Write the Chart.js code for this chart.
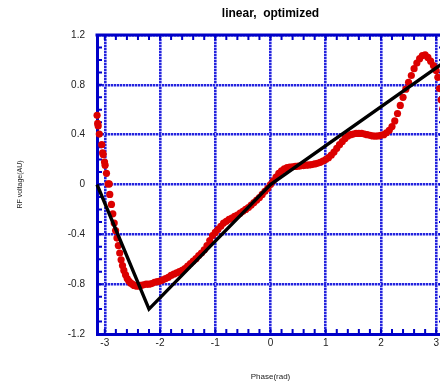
<!DOCTYPE html>
<html><head><meta charset="utf-8">
<script src="https://cdn.jsdelivr.net/npm/chart.js@4"></script>
<style>html,body{margin:0;padding:0;overflow:hidden;background:#fff}#wrap{width:448px;height:383px}</style>
</head><body><div id="wrap"><canvas id="c" width="448" height="383"></canvas></div>
<script>
// ---- data ----
const measPhase = [-3.14,-3.13,-3.12,-3.10,-3.055,-3.04,-3.03,-3.005,-2.995,-2.97,-2.94,-2.92,-2.91,-2.88,-2.855,-2.83,-2.805,-2.78,-2.755,-2.73,-2.705,-2.68,-2.655,-2.625,-2.595,-2.565,-2.535,-2.50,-2.47,-2.44,-2.41,-2.38,-2.35,
-2.30,-2.25,-2.20,-2.15,-2.10,-2.05,-2.00,-1.95,-1.90,-1.85,-1.80,-1.75,-1.70,-1.65,-1.60,-1.55,-1.50,-1.45,-1.40,-1.35,-1.30,-1.25,-1.20,-1.15,-1.10,-1.05,-1.00,-0.95,-0.90,-0.85,-0.80,-0.75,-0.70,-0.65,-0.60,-0.55,-0.50,-0.45,-0.40,-0.35,-0.30,-0.25,-0.20,-0.15,-0.10,-0.05,
0.00,0.05,0.10,0.15,0.20,0.25,0.30,0.35,0.40,0.45,0.50,0.55,0.60,0.65,0.70,0.75,0.80,0.85,0.90,0.95,1.00,1.05,1.10,1.15,1.20,1.25,1.30,1.35,1.40,1.45,1.50,1.55,1.60,1.65,1.70,1.75,1.80,1.85,1.90,1.95,2.00,2.05,2.10,2.15,2.20,2.25,2.30,2.35,2.40,2.45,2.50,2.55,2.60,2.65,2.70,2.75,2.80,2.85,2.90,2.95,3.00,3.03,3.06,3.09,3.12,3.14];
const measVoltage = [0.555,0.49,0.47,0.405,0.32,0.255,0.24,0.18,0.155,0.09,0.005,0.005,-0.08,-0.16,-0.235,-0.31,-0.37,-0.43,-0.49,-0.55,-0.605,-0.65,-0.69,-0.725,-0.755,-0.775,-0.79,-0.80,-0.81,-0.815,-0.815,-0.815,-0.81,
-0.805,-0.80,-0.80,-0.795,-0.785,-0.78,-0.775,-0.765,-0.755,-0.745,-0.73,-0.72,-0.71,-0.70,-0.69,-0.675,-0.655,-0.635,-0.615,-0.595,-0.57,-0.55,-0.525,-0.49,-0.45,-0.41,-0.385,-0.36,-0.335,-0.31,-0.295,-0.28,-0.27,-0.255,-0.245,-0.23,-0.215,-0.20,-0.185,-0.165,-0.145,-0.125,-0.105,-0.08,-0.055,-0.03,
0.00,0.03,0.06,0.09,0.11,0.125,0.135,0.14,0.142,0.145,0.147,0.15,0.152,0.155,0.157,0.16,0.165,0.17,0.178,0.188,0.20,0.215,0.235,0.26,0.29,0.32,0.345,0.37,0.39,0.40,0.405,0.41,0.41,0.41,0.405,0.40,0.395,0.39,0.388,0.39,0.395,0.40,0.415,0.435,0.465,0.51,0.57,0.635,0.70,0.765,0.82,0.875,0.93,0.975,1.01,1.035,1.04,1.02,0.99,0.955,0.915,0.86,0.77,0.68,0.61,0.56];
const fitPhase = [-3.1416,-2.20,0.00,3.1416];
const fitVoltage = [0.00,-1.00,0.00,0.98];
const xTickValues = [-3,-2,-1,0,1,2,3];
const xTickLabels = ['-3','-2','-1','0','1','2','3'];
const yTickValues = [-1.2,-0.8,-0.4,0,0.4,0.8,1.2];
const yTickLabels = ['-1.2','-0.8','-0.4','0','0.4','0.8','1.2'];
const xMinorTicks = [-3,-2.8,-2.6,-2.4,-2.2,-2,-1.8,-1.6,-1.4,-1.2,-1,-0.8,-0.6,-0.4,-0.2,0,0.2,0.4,0.6,0.8,1,1.2,1.4,1.6,1.8,2,2.2,2.4,2.6,2.8,3];
const yMinorTicks = [-1.1,-1.0,-0.9,-0.8,-0.7,-0.6,-0.5,-0.4,-0.3,-0.2,-0.1,0,0.1,0.2,0.3,0.4,0.5,0.6,0.7,0.8,0.9,1.0,1.1];

const axisColor = '#0000c8';
const FONT = "'Liberation Sans', Arial, sans-serif";

// two-tone dotted grid strokes (blue / light blue), as in the reference
function stripePattern(alongY) {
  const c = document.createElement('canvas');
  c.width = alongY ? 1 : 3; c.height = alongY ? 3 : 1;
  const g = c.getContext('2d');
  g.fillStyle = '#b4b4ff'; g.fillRect(0, 0, c.width, c.height);
  g.fillStyle = '#2424dc';
  if (alongY) g.fillRect(0, 0, 1, 2); else g.fillRect(0, 0, 2, 1);
  return g.createPattern(c, 'repeat');
}
const vGridStyle = stripePattern(true);
const hGridStyle = stripePattern(false);

const framePlugin = {
  id: 'frame',
  beforeDatasetsDraw(chart) {
    const {ctx, chartArea: a, scales: {x, y}} = chart;
    ctx.save();
    ctx.strokeStyle = axisColor;
    ctx.lineWidth = 2;
    ctx.beginPath();
    xMinorTicks.forEach(v => {
      const px = x.getPixelForValue(v);
      ctx.moveTo(px, a.bottom); ctx.lineTo(px, a.bottom - 5);
      ctx.moveTo(px, a.top); ctx.lineTo(px, a.top + 5);
    });
    yMinorTicks.forEach(v => {
      const py = y.getPixelForValue(v);
      ctx.moveTo(a.left, py); ctx.lineTo(a.left + 5, py);
      ctx.moveTo(a.right, py); ctx.lineTo(a.right - 5, py);
    });
    ctx.stroke();
    ctx.lineWidth = 3;
    ctx.beginPath();
    ctx.moveTo(a.left - 1.5, a.top); ctx.lineTo(a.right, a.top);
    ctx.moveTo(a.right, a.top); ctx.lineTo(a.right, a.bottom);
    ctx.stroke();
    ctx.restore();
  }
};

new Chart(document.getElementById('c'), {
  type: 'scatter',
  data: {
    datasets: [
      {
        type: 'line', label: 'fit',
        data: fitPhase.map((p, i) => ({x: p, y: fitVoltage[i]})),
        borderColor: '#000', borderWidth: 3.4, pointRadius: 0, fill: false, tension: 0, clip: false, order: 0
      },
      {
        type: 'scatter', label: 'measured',
        data: measPhase.map((p, i) => ({x: p, y: measVoltage[i]})),
        backgroundColor: '#dc0000', borderWidth: 0, pointRadius: 3.6, clip: false, order: 1
      }
    ]
  },
  options: {
    responsive: false, animation: false,
    layout: {padding: {left: 0, right: 3, top: 0, bottom: 0}},
    plugins: {
      legend: {display: false}, tooltip: {enabled: false},
      title: {
        display: true, text: 'linear,  optimized', fullSize: false, color: '#000',
        font: {family: FONT, size: 12, weight: 'bold', lineHeight: 1.2},
        padding: {top: 6, bottom: 14.6}
      }
    },
    scales: {
      x: {
        type: 'linear', position: 'bottom', min: -Math.PI, max: Math.PI,
        afterBuildTicks: s => { s.ticks = xTickValues.map(v => ({value: v})); },
        afterFit: s => { s.height = 49; },
        ticks: {callback: (v, i) => xTickLabels[i], color: '#222', font: {family: FONT, size: 10}, padding: 3, maxRotation: 0, autoSkip: false},
        grid: {color: () => vGridStyle, lineWidth: 2.6, drawTicks: false},
        border: {display: true, color: axisColor, width: 3},
        title: {display: true, text: 'Phase(rad)', color: '#222', font: {family: FONT, size: 8, lineHeight: 1.2}, padding: {top: 0, bottom: 1.2}}
      },
      y: {
        type: 'linear', position: 'left', min: -1.2, max: 1.2,
        afterBuildTicks: s => { s.ticks = yTickValues.map(v => ({value: v})); },
        afterFit: s => { s.width = 97; },
        ticks: {callback: (v, i) => yTickLabels[i], color: '#222', font: {family: FONT, size: 10}, padding: 12, autoSkip: false},
        grid: {color: () => hGridStyle, lineWidth: 2.6, drawTicks: false},
        border: {display: true, color: axisColor, width: 3},
        title: {display: true, text: 'RF voltage(AU)', color: '#222', font: {family: FONT, size: 7, lineHeight: 1.2}, padding: {top: 15.5, bottom: 0}}
      }
    }
  },
  plugins: [framePlugin]
});
</script>
</body></html>
